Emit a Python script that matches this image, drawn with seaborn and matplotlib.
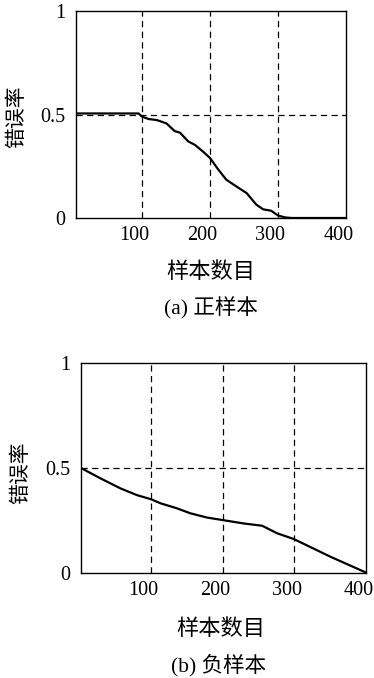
import matplotlib
matplotlib.use("Agg")
import matplotlib.pyplot as plt
import matplotlib.transforms as mtransforms
import seaborn as sns
import pandas as pd

# ---- data ----
pos_x = [3, 50, 95, 100, 110, 122, 136, 148, 156, 168, 178, 190, 200, 212, 224, 239, 254, 268, 278, 290, 300, 310, 320, 400]
pos_y = [0.505, 0.505, 0.505, 0.49, 0.478, 0.473, 0.457, 0.42, 0.412, 0.37, 0.353, 0.32, 0.29, 0.235, 0.185, 0.152, 0.12, 0.065, 0.042, 0.035, 0.012, 0.003, 0.0, 0.0]

neg_x = [2, 29, 57, 80, 100, 113, 136, 155, 178, 200, 229, 255, 276, 299, 350, 400]
neg_y = [0.5, 0.451, 0.403, 0.371, 0.351, 0.332, 0.308, 0.284, 0.264, 0.252, 0.236, 0.225, 0.189, 0.162, 0.078, 0.002]

x_ticks = [100, 200, 300, 400]
y_ticks = [0, 0.5, 1]
y_tick_labels = ["0", "0.5", "1"]
x_label = "样本数目"
y_label = "错误率"
captions = ["(a) 正样本", "(b) 负样本"]

sns.set_theme(style="white")
plt.rcParams['font.family'] = ['Liberation Serif', 'Noto Sans CJK SC']

fig = plt.figure(figsize=(3.74, 6.78), dpi=100)

W, H = 374, 678
def axes_rect(l, r, t, b):
    return [l / W, (H - b) / H, (r - l) / W, (b - t) / H]

panels = [
    dict(rect=axes_rect(76, 346, 11, 218), x=pos_x, y=pos_y, xlim=(3, 400),
         ylab=(-0.215, 0.488), xlab=(0.50, -0.266), cap=(0.564, 0.5457)),
    dict(rect=axes_rect(81, 366, 363, 573), x=neg_x, y=neg_y, xlim=(2, 400),
         ylab=(-0.207, 0.476), xlab=(0.491, -0.271), cap=(0.584, 0.0192)),
]

shift = mtransforms.ScaledTranslation(-7.5 / 100, 0, fig.dpi_scale_trans)

for p, cap in zip(panels, captions):
    ax = fig.add_axes(p["rect"])
    df = pd.DataFrame({"x": p["x"], "y": p["y"]})
    sns.lineplot(data=df, x="x", y="y", ax=ax, color="black", linewidth=1.6, zorder=3)
    ax.set_xlim(*p["xlim"])
    ax.set_ylim(0, 1)
    ax.set_xticks(x_ticks)
    ax.set_yticks(y_ticks)
    ax.set_yticklabels(y_tick_labels)
    ax.tick_params(axis="both", length=0, labelsize=14.5, colors="black")
    ax.tick_params(axis="x", pad=6)
    ax.tick_params(axis="y", pad=8)
    for tick in ax.xaxis.get_major_ticks():
        tick.label1.set_transform(tick.label1.get_transform() + shift)
    for s in ax.spines.values():
        s.set_color("black")
        s.set_linewidth(1.0)
        s.set_visible(True)
    for xv in x_ticks[:-1]:
        ax.axvline(xv, color="black", linestyle=(0, (5, 3.5)), linewidth=0.9, zorder=2)
    ax.axhline(0.5, color="black", linestyle=(0, (5, 3.5)), linewidth=0.9, zorder=2)
    ax.set_ylabel(y_label, fontsize=15, color="black")
    ax.yaxis.set_label_coords(*p["ylab"])
    ax.set_xlabel(x_label, fontsize=16, color="black")
    ax.xaxis.set_label_coords(*p["xlab"])
    ax.xaxis.label.set_va("center")
    ax.yaxis.label.set_va("center")
    fig.text(p["cap"][0], p["cap"][1], cap, ha="center", va="center", fontsize=15.5, color="black")

fig.savefig("out.png", dpi=100, facecolor="white")
